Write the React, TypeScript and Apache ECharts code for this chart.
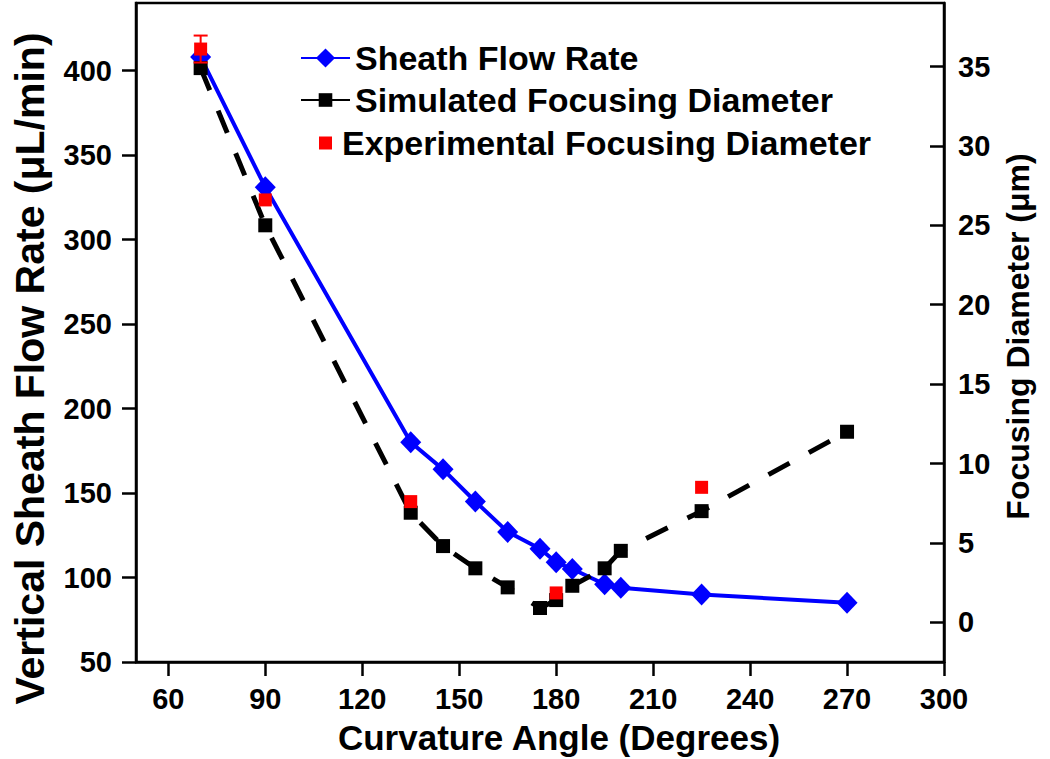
import React, { useEffect, useRef } from "react";
import * as echarts from "echarts";

// ---- data ----
const angles = [70, 90, 135, 145, 155, 165, 175, 180, 185, 195, 200, 225, 270];
const sheathFlow = [408, 331, 180, 164, 145, 127, 117, 109, 105, 96, 94, 90, 85];
const simulatedDiameter = [34.9, 25.0, 6.9, 4.8, 3.4, 2.2, 0.9, 1.4, 2.3, 3.4, 4.5, 7.0, 12.0];
const expAngles = [70, 90, 135, 180, 225];
const expDiameter = [36.1, 26.6, 7.6, 1.85, 8.5];
const expError = [0.85, 0, 0, 0, 0];

const xTicks = [60, 90, 120, 150, 180, 210, 240, 270, 300];
const leftTicks = [50, 100, 150, 200, 250, 300, 350, 400];
const rightTicks = [0, 5, 10, 15, 20, 25, 30, 35];

const FONT = "'Liberation Sans', Arial, Helvetica, sans-serif";

export default function App() {
  const ref = useRef<HTMLDivElement>(null);
  useEffect(() => {
    if (!ref.current) return;
    const chart = echarts.init(ref.current, undefined, { renderer: "svg" });
    const axisLine = { show: true, onZero: false, lineStyle: { color: "#000", width: 2.5 } };
    const labelStyle = { color: "#000", fontFamily: FONT, fontWeight: "bold" as const, fontSize: 29 };
    const nameStyle = { color: "#000", fontFamily: FONT, fontWeight: "bold" as const };
    const option: any = {
      animation: false,
      backgroundColor: "#fff",
      textStyle: { fontFamily: FONT },
      grid: {
        left: 136, right: 106, top: 3, bottom: 97,
        containLabel: false, outerBoundsMode: "none",
        show: true, borderColor: "#000", borderWidth: 2.5,
      },
      legend: [
        {
          data: ["Sheath Flow Rate"], left: 300, top: 41, padding: 0,
          itemWidth: 49, itemHeight: 24, itemGap: 0,
          textStyle: { ...labelStyle, fontSize: 34 },
        },
        {
          data: ["Simulated Focusing Diameter"], left: 300, top: 83, padding: 0,
          itemWidth: 49, itemHeight: 17, itemGap: 0,
          lineStyle: { type: "solid" },
          textStyle: { ...labelStyle, fontSize: 34 },
        },
        {
          data: ["Experimental Focusing Diameter"], left: 319, top: 126, padding: 0,
          itemWidth: 13, itemHeight: 13, itemGap: 0,
          textStyle: { ...labelStyle, fontSize: 34, padding: [0, 0, 0, 5] },
        },
      ],
      xAxis: {
        type: "value", min: 50, max: 300,
        name: "Curvature Angle (Degrees)", nameLocation: "middle", nameGap: 58,
        nameTextStyle: { ...nameStyle, fontSize: 35, padding: [0, 0, 0, 38] },
        axisLine,
        axisTick: { show: true, inside: false, length: 14, lineStyle: { color: "#000", width: 2.5 }, customValues: xTicks },
        axisLabel: { ...labelStyle, margin: 22, customValues: xTicks },
        splitLine: { show: false },
      },
      yAxis: [
        {
          type: "value", min: 50, max: 440, position: "left",
          name: "Vertical Sheath Flow Rate (\u03bcL/min)", nameLocation: "middle", nameRotate: 90, nameGap: 86,
          nameTextStyle: { ...nameStyle, fontSize: 41, padding: [0, 72, 0, 0] },
          axisLine,
          axisTick: { show: true, inside: false, length: 14, lineStyle: { color: "#000", width: 2.5 }, customValues: leftTicks },
          axisLabel: { ...labelStyle, margin: 24, customValues: leftTicks },
          splitLine: { show: false },
        },
        {
          type: "value", min: -2.5, max: 39, position: "right",
          name: "Focusing Diameter (\u03bcm)", nameLocation: "middle", nameRotate: 90, nameGap: 58,
          nameTextStyle: { ...nameStyle, fontSize: 32, padding: [0, 8, 0, 0] },
          axisLine,
          axisTick: { show: true, inside: true, length: 14, lineStyle: { color: "#000", width: 2.5 }, customValues: rightTicks },
          axisLabel: { ...labelStyle, margin: 14, customValues: rightTicks },
          splitLine: { show: false },
        },
      ],
      series: [
        {
          name: "Sheath Flow Rate", type: "line", yAxisIndex: 0,
          data: angles.map((a, i) => [a, sheathFlow[i]]),
          symbol: "diamond", symbolSize: [21, 22],
          lineStyle: { color: "#0000ff", width: 4 },
          itemStyle: { color: "#0000ff" },
          z: 2,
        },
        {
          name: "Simulated Focusing Diameter", type: "line", yAxisIndex: 1,
          data: angles.map((a, i) => [a, simulatedDiameter[i]]),
          symbol: "rect", symbolSize: 14,
          lineStyle: { color: "#000", width: 5, type: [24, 22] },
          itemStyle: { color: "#000" },
          z: 3,
        },
        {
          name: "Experimental error", type: "custom", yAxisIndex: 1,
          data: expAngles
            .map((a, i) => [a, expDiameter[i] - expError[i], expDiameter[i] + expError[i], expError[i]])
            .filter((d) => d[3] > 0),
          encode: { x: 0, y: [1, 2] },
          renderItem: (params: any, api: any) => {
            const x = api.value(0);
            const hi = api.coord([x, api.value(2)]);
            const lo = api.coord([x, api.value(1)]);
            const half = 7;
            const st = { stroke: "#ff0000", lineWidth: 2 };
            return {
              type: "group",
              children: [
                { type: "line", shape: { x1: hi[0], y1: hi[1], x2: lo[0], y2: lo[1] }, style: st },
                { type: "line", shape: { x1: hi[0] - half, y1: hi[1], x2: hi[0] + half, y2: hi[1] }, style: st },
                { type: "line", shape: { x1: lo[0] - half, y1: lo[1], x2: lo[0] + half, y2: lo[1] }, style: st },
              ],
            };
          },
          z: 4,
        },
        {
          name: "Experimental Focusing Diameter", type: "scatter", yAxisIndex: 1,
          data: expAngles.map((a, i) => [a, expDiameter[i]]),
          symbol: "rect", symbolSize: 13,
          itemStyle: { color: "#ff0000", opacity: 1 },
          z: 5,
        },
      ],
    };
    chart.setOption(option);
    return () => chart.dispose();
  }, []);
  return (
    <div
      ref={ref}
      style={{ position: "absolute", left: 0, top: 0, width: 1050, height: 759, background: "#fff" }}
    />
  );
}
